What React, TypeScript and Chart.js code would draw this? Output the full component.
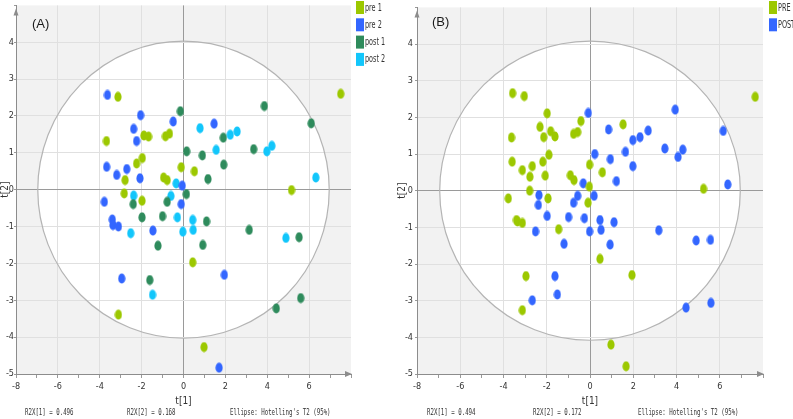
import React, { useEffect, useRef } from "react";
import { Chart, registerables } from "chart.js";

Chart.register(...registerables);

type Pt = [number, number];

// ---------- Panel A data ----------
const SERIES_A = ["pre 1", "pre 2", "post 1", "post 2"];
const PRE1_A: Pt[] = [
  [-3.13, 2.52], [-1.89, 1.47], [-1.67, 1.44], [-0.86, 1.45], [-0.67, 1.52],
  [-3.68, 1.32], [-2.24, 0.71], [-1.97, 0.86], [-2.79, 0.26], [-0.95, 0.33],
  [-0.78, 0.26], [-0.11, 0.61], [0.52, 0.5], [-2.83, -0.1], [-1.98, -0.3],
  [0.44, -1.97], [-3.11, -3.39], [0.98, -4.27], [7.51, 2.6], [5.16, -0.01],
];
const PRE2_A: Pt[] = [
  [-3.63, 2.57], [-2.05, 2.02], [-0.49, 1.85], [-2.38, 1.65], [-2.24, 1.32],
  [1.46, 1.79], [-3.67, 0.62], [-3.19, 0.4], [-2.71, 0.56], [-2.08, 0.31],
  [-0.06, 0.11], [-3.78, -0.33], [-0.11, -0.39], [-3.4, -0.81], [-3.37, -0.96],
  [-3.11, -1.0], [-1.46, -1.11], [-2.95, -2.41], [1.95, -2.31], [1.7, -4.83],
];
const POST1_A: Pt[] = [
  [-0.15, 2.13], [3.86, 2.27], [6.1, 1.8], [1.9, 1.41], [0.15, 1.04],
  [0.9, 0.93], [3.35, 1.1], [1.92, 0.68], [1.17, 0.29], [0.14, -0.12],
  [-2.4, -0.39], [-0.78, -0.33], [-1.98, -0.75], [-1.0, -0.72], [1.1, -0.86],
  [3.14, -1.09], [5.52, -1.29], [0.92, -1.5], [-1.22, -1.52], [-1.61, -2.45],
  [4.43, -3.22], [5.6, -2.94],
];
const POST2_A: Pt[] = [
  [0.79, 1.67], [2.23, 1.49], [2.56, 1.58], [1.56, 1.08], [3.98, 1.04],
  [4.22, 1.19], [6.32, 0.33], [-0.35, 0.17], [-2.38, -0.16], [-0.6, -0.17],
  [-0.29, -0.75], [0.44, -0.82], [0.46, -1.09], [-2.52, -1.18], [-0.03, -1.14],
  [4.89, -1.31], [-1.48, -2.85],
];
const FOOTER_A = ["R2X[1] = 0.496", "R2X[2] = 0.168", "Ellipse: Hotelling's T2 (95%)"];

// ---------- Panel B data ----------
const SERIES_B = ["PRE", "POST"];
const PRE_B: Pt[] = [
  [-3.58, 2.66], [-3.04, 2.58], [-1.98, 2.11], [-0.42, 1.9], [-2.31, 1.74],
  [-1.82, 1.62], [-2.14, 1.46], [-1.62, 1.48], [-0.76, 1.55], [-0.57, 1.6],
  [-3.63, 1.45], [-1.9, 0.98], [-3.6, 0.79], [-3.13, 0.56], [-2.67, 0.67],
  [-2.78, 0.38], [-2.18, 0.79], [-2.07, 0.41], [-0.02, 0.71], [-0.91, 0.42],
  [-0.74, 0.29], [-0.03, 0.11], [-3.78, -0.21], [-2.79, 0.0], [-1.94, -0.21],
  [-0.09, -0.33], [-3.4, -0.8], [-3.35, -0.84], [-3.13, -0.88], [-1.45, -1.05],
  [0.57, 0.5], [5.25, 0.05], [0.46, -1.86], [1.94, -2.3], [-2.96, -2.33],
  [-3.13, -3.26], [0.97, -4.2], [1.67, -4.79], [7.64, 2.56], [1.53, 1.81],
];
const POST_B: Pt[] = [
  [-0.08, 2.12], [0.22, 1.0], [-0.31, 0.2], [-2.36, -0.12], [-2.39, -0.39],
  [-0.57, -0.14], [-0.76, -0.33], [0.19, -0.14], [-1.98, -0.69], [-0.99, -0.72],
  [-0.26, -0.75], [-2.52, -1.11], [-0.02, -1.11], [-1.2, -1.45], [-1.62, -2.33],
  [-1.51, -2.83], [-2.67, -2.99], [1.98, 1.38], [2.31, 1.46], [2.69, 1.64],
  [0.94, 0.86], [1.64, 1.06], [3.46, 1.15], [4.07, 0.92], [4.29, 1.12],
  [1.98, 0.67], [1.22, 0.26], [6.37, 0.17], [0.46, -0.8], [1.11, -0.86],
  [0.51, -1.07], [3.18, -1.08], [4.91, -1.36], [5.57, -1.34], [0.93, -1.47],
  [4.44, -3.19], [5.59, -3.06], [3.94, 2.21], [6.16, 1.63], [0.86, 1.67],
];
const FOOTER_B = ["R2X[1] = 0.494", "R2X[2] = 0.172", "Ellipse: Hotelling's T2 (95%)"];

// ---------- Axes ----------
const X_MIN = -8;
const X_MAX = 8;
const Y_MIN = -5;
const Y_MAX = 5;
const X_TITLE = "t[1]";
const Y_TITLE = "t[2]";

const LIME = "#9cc800";
const BLUE = "#3366ff";
const DKGREEN = "#2e8b5c";
const CYAN = "#12c6fb";

const NARROW = "'Liberation Sans Narrow', 'DejaVu Sans Condensed', 'Liberation Sans', sans-serif";
const MONO = "'DejaVu Sans Mono', 'Liberation Mono', monospace";

function makeDot(color: string) {
  const c = document.createElement("canvas");
  c.width = 8;
  c.height = 11;
  const g = c.getContext("2d")!;
  g.fillStyle = color;
  g.beginPath();
  g.ellipse(4, 5.5, 3.6, 5.1, 0, 0, Math.PI * 2);
  g.fill();
  return c;
}

const panelPlugin = {
  id: "panel",
  beforeDraw(chart: any, _args: any, opts: any) {
    const { ctx, chartArea: a, scales } = chart;
    const x = scales.x;
    const y = scales.y;
    ctx.save();
    ctx.fillStyle = "#f2f2f2";
    ctx.fillRect(a.left, a.top, a.right - a.left, a.bottom - a.top);
    const cx = x.getPixelForValue(0);
    const cy = y.getPixelForValue(0);
    const rx = x.getPixelForValue(opts.rx) - cx;
    const ry = cy - y.getPixelForValue(opts.ry);
    ctx.beginPath();
    ctx.ellipse(cx, cy, rx, ry, 0, 0, Math.PI * 2);
    ctx.fillStyle = "#ffffff";
    ctx.fill();
    ctx.restore();
  },
  beforeDatasetsDraw(chart: any, _args: any, opts: any) {
    const { ctx, scales } = chart;
    const x = scales.x;
    const y = scales.y;
    const cx = x.getPixelForValue(0);
    const cy = y.getPixelForValue(0);
    const rx = x.getPixelForValue(opts.rx) - cx;
    const ry = cy - y.getPixelForValue(opts.ry);
    ctx.save();
    ctx.beginPath();
    ctx.ellipse(cx, cy, rx, ry, 0, 0, Math.PI * 2);
    ctx.strokeStyle = "#b4b4b4";
    ctx.lineWidth = 1.2;
    ctx.stroke();
    ctx.restore();
  },
  afterDraw(chart: any, _args: any, opts: any) {
    const { ctx, chartArea: a } = chart;
    ctx.save();
    // axis arrows
    ctx.fillStyle = "#8c8c8c";
    ctx.beginPath();
    ctx.moveTo(a.right + 1, a.bottom);
    ctx.lineTo(a.right - 6, a.bottom - 3);
    ctx.lineTo(a.right - 6, a.bottom + 3);
    ctx.closePath();
    ctx.fill();
    ctx.beginPath();
    ctx.moveTo(a.left, a.top + 3);
    ctx.lineTo(a.left - 2.5, a.top + 10);
    ctx.lineTo(a.left + 2.5, a.top + 10);
    ctx.closePath();
    ctx.fill();

    // panel label
    ctx.fillStyle = "#1a1a1a";
    ctx.font = "13px 'Liberation Sans', Arial, sans-serif";
    ctx.textBaseline = "middle";
    ctx.textAlign = "left";
    ctx.fillText(opts.label, opts.labelX, opts.labelY);

    // legend
    chart.data.datasets.forEach((ds: any, i: number) => {
      const top = 1 + i * 17.3;
      ctx.fillStyle = ds.backgroundColor;
      ctx.fillRect(opts.legendX, top, 8, 13);
      ctx.fillStyle = "#333";
      ctx.font = `10px ${NARROW}`;
      ctx.save();
      ctx.translate(opts.legendX + 9, top + 7);
      ctx.scale(0.72, 1);
      ctx.fillText(ds.label, 0, 0);
      ctx.restore();
    });

    // footer texts
    ctx.fillStyle = "#333";
    ctx.font = `9px ${MONO}`;
    opts.footer.forEach((t: string, i: number) => {
      ctx.save();
      ctx.translate(opts.footerX[i], 413);
      ctx.scale(0.64, 1);
      ctx.fillText(t, 0, 0);
      ctx.restore();
    });
    ctx.restore();
  },
};

type Series = { label: string; points: Pt[]; color: string };

type PanelProps = {
  left: number;
  width: number;
  plotLeft: number;
  plotRight: number;
  yTickPad: number;
  series: Series[];
  rx: number;
  ry: number;
  label: string;
  labelX: number;
  labelY: number;
  legendX: number;
  footer: string[];
  footerX: number[];
};

function ScatterPanel(p: PanelProps) {
  const ref = useRef<HTMLCanvasElement | null>(null);
  useEffect(() => {
    if (!ref.current) return;
    const tickFont = { family: NARROW, size: 9 };
    const gridColor = (lim: number) => (ctx: any) => {
      const v = ctx.tick ? ctx.tick.value : NaN;
      if (v === 0) return "#9a9a9a";
      if (Math.abs(v) >= lim) return "rgba(0,0,0,0)";
      if (lim === 8 && Math.abs(v) % 2 === 1) return "rgba(0,0,0,0)";
      return "#e0e0e0";
    };
    const chart = new Chart(ref.current, {
      type: "scatter",
      data: {
        datasets: p.series.map((s) => ({
          label: s.label,
          data: s.points.map(([x, y]) => ({ x, y })),
          backgroundColor: s.color,
          borderColor: s.color,
          pointStyle: makeDot(s.color),
          pointRadius: 4,
        })),
      },
      options: {
        animation: false,
        responsive: false,
        devicePixelRatio: 1,
        events: [],
        layout: { padding: { left: 0, right: p.width - p.plotRight, top: 5, bottom: 0 } },
        plugins: {
          legend: { display: false },
          tooltip: { enabled: false },
          panel: {
            rx: p.rx,
            ry: p.ry,
            label: p.label,
            labelX: p.labelX,
            labelY: p.labelY,
            legendX: p.legendX,
            footer: p.footer,
            footerX: p.footerX,
          },
        } as any,
        scales: {
          x: {
            type: "linear",
            min: X_MIN,
            max: X_MAX,
            afterFit: (s: any) => {
              s.height = 45;
            },
            ticks: {
              stepSize: 1,
              autoSkip: false,
              maxRotation: 0,
              padding: 3,
              font: tickFont,
              color: "#333",
              callback: (v: any) => (v % 2 === 0 && v !== X_MAX ? String(v) : ""),
            },
            grid: { color: gridColor(8), tickColor: "#999", tickLength: 4, lineWidth: 1 },
            border: { color: "#8c8c8c" },
            title: {
              display: true,
              text: X_TITLE,
              color: "#333",
              font: { family: NARROW, size: 10, lineHeight: 1.2 },
              padding: { top: 0, bottom: 12 },
            },
          },
          y: {
            type: "linear",
            min: Y_MIN,
            max: Y_MAX,
            afterFit: (s: any) => {
              s.width = p.plotLeft;
            },
            ticks: {
              stepSize: 1,
              autoSkip: false,
              padding: p.yTickPad,
              font: tickFont,
              color: "#333",
              callback: (v: any) => (v === Y_MAX ? "" : String(v)),
            },
            grid: { color: gridColor(5), tickColor: "#999", tickLength: 2, lineWidth: 1 },
            border: { color: "#8c8c8c" },
            title: {
              display: true,
              text: Y_TITLE,
              color: "#333",
              font: { family: NARROW, size: 10, lineHeight: 1 },
              padding: 0,
            },
          },
        },
      } as any,
      plugins: [panelPlugin as any],
    });
    return () => chart.destroy();
  }, []);
  return (
    <canvas
      ref={ref}
      width={p.width}
      height={419}
      style={{ position: "absolute", left: p.left, top: 0, width: p.width, height: 419 }}
    />
  );
}

export default function App() {
  return (
    <div
      style={{
        position: "absolute",
        left: 0,
        top: 0,
        width: 793,
        height: 419,
        background: "#ffffff",
        overflow: "hidden",
      }}
    >
      <ScatterPanel
        left={0}
        width={395}
        plotLeft={16}
        plotRight={351}
        yTickPad={0}
        series={[
          { label: SERIES_A[0], points: PRE1_A, color: LIME },
          { label: SERIES_A[1], points: PRE2_A, color: BLUE },
          { label: SERIES_A[2], points: POST1_A, color: DKGREEN },
          { label: SERIES_A[3], points: POST2_A, color: CYAN },
        ]}
        rx={6.96}
        ry={4.03}
        label="(A)"
        labelX={32}
        labelY={24}
        legendX={356}
        footer={FOOTER_A}
        footerX={[25, 127, 230]}
      />
      <ScatterPanel
        left={397}
        width={396}
        plotLeft={20}
        plotRight={366}
        yTickPad={2}
        series={[
          { label: SERIES_B[0], points: PRE_B, color: LIME },
          { label: SERIES_B[1], points: POST_B, color: BLUE },
        ]}
        rx={6.95}
        ry={4.08}
        label="(B)"
        labelX={35}
        labelY={22}
        legendX={372}
        footer={FOOTER_B}
        footerX={[30, 136, 241]}
      />
    </div>
  );
}
